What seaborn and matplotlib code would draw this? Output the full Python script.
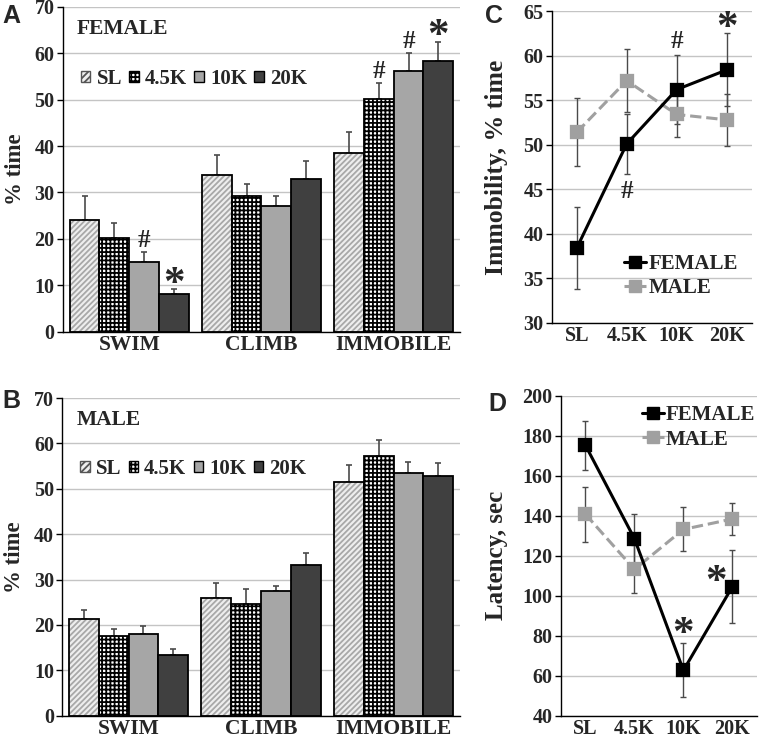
import matplotlib
matplotlib.use("Agg")
import matplotlib.pyplot as plt
import pandas as pd
import seaborn as sns
from matplotlib.lines import Line2D
from matplotlib.patches import Patch, Rectangle

# --- data ---
behaviors = ["SWIM", "CLIMB", "IMMOBILE"]
doses = ["SL", "4.5K", "10K", "20K"]
sexes = ["FEMALE", "MALE"]

# values per dose: SL, 4.5K, 10K, 20K
female_swim = [24.1, 20.3, 15.1, 8.2]
female_climb = [33.7, 29.3, 27.1, 33.0]
female_immobile = [38.4, 50.1, 56.2, 58.4]
female_swim_err = [5.1, 3.1, 2.0, 1.0]
female_climb_err = [4.3, 2.5, 2.1, 3.7]
female_immobile_err = [4.6, 3.4, 3.9, 4.1]

male_swim = [21.4, 17.6, 18.0, 13.3]
male_climb = [26.0, 24.7, 27.5, 33.2]
male_immobile = [51.4, 57.2, 53.4, 52.8]
male_swim_err = [2.0, 1.4, 1.8, 1.5]
male_climb_err = [3.2, 3.2, 1.1, 2.6]
male_immobile_err = [3.8, 3.5, 2.5, 2.9]

latency_female = [175.3, 128.6, 62.7, 104.6]
latency_female_err = [12.3, 12.2, 13.5, 18.4]
latency_male = [140.8, 113.2, 133.2, 138.4]
latency_male_err = [13.7, 12.0, 11.0, 7.8]

# significance marks: (behavior index, dose index, symbol)
female_marks = [(0, 2, "#"), (0, 3, "*"), (2, 1, "#"), (2, 2, "#"), (2, 3, "*")]

bar_colors = {"SL": "#eeeeee", "4.5K": "white", "10K": "#a6a6a6", "20K": "#404040"}
bar_hatches = {"SL": "//////", "4.5K": "++++", "10K": None, "20K": None}
line_colors = {"FEMALE": "black", "MALE": "#a0a0a0"}

sns.set_theme(style="white")
plt.rcParams["font.family"] = ["Liberation Serif", "DejaVu Serif"]
plt.rcParams["font.weight"] = "bold"
plt.rcParams["axes.labelweight"] = "bold"
plt.rcParams["hatch.linewidth"] = 1.3

GRID = "#c4c4c4"
ERR = "#4a4a4a"


def style_axes(ax, n, xsize):
    ax.spines["top"].set_visible(False)
    ax.spines["right"].set_visible(False)
    for s in ("left", "bottom"):
        ax.spines[s].set_color("black")
        ax.spines[s].set_linewidth(1.0)
    ax.yaxis.grid(True, color=GRID, lw=1)
    ax.set_axisbelow(True)
    ax.set_xlim(-0.5, n - 0.5)
    ax.set_xticks([i - 0.5 for i in range(n + 1)], minor=True)
    ax.tick_params(axis="x", which="major", length=0, labelsize=xsize, pad=2)
    ax.tick_params(axis="x", which="minor", length=5, width=1, color="black", direction="out")
    ax.tick_params(axis="y", length=4, width=1, color="black", direction="out", labelsize=14.5, pad=2, left=True)
    ax.set_xlabel("")


def bar_panel(ax, means, errs, title, marks):
    rows = []
    for b, vals in zip(behaviors, means):
        for d, v in zip(doses, vals):
            rows.append({"behavior": b, "dose": d, "value": v})
    df = pd.DataFrame(rows)
    sns.barplot(data=df, x="behavior", y="value", hue="dose", order=behaviors,
                hue_order=doses, palette=bar_colors, width=0.9, saturation=1,
                errorbar=None, edgecolor="black", linewidth=1.3, legend=False,
                zorder=2, ax=ax)
    centers = {}
    bar_conts = list(ax.containers)
    for di, cont in enumerate(bar_conts):
        d = doses[di]
        for bi, patch in enumerate(cont.patches):
            x = patch.get_x() + patch.get_width() / 2
            centers[(bi, di)] = x
            if d == "SL":
                patch.set_hatch(bar_hatches[d])
                patch.set_edgecolor("#a8a8a8")
                patch.set_linewidth(0)
                ax.add_patch(Rectangle((patch.get_x(), 0), patch.get_width(), patch.get_height(),
                                       fill=False, edgecolor="black", lw=1.3, zorder=2.1))
            elif bar_hatches[d]:
                patch.set_hatch(bar_hatches[d])
            ax.errorbar([x], [means[bi][di]], yerr=[[0], [errs[bi][di]]], fmt="none",
                        ecolor=ERR, elinewidth=1.2, capsize=2.5, capthick=1.2, zorder=1.5)
    for bi, di, sym in marks:
        top = means[bi][di] + errs[bi][di]
        if sym == "*":
            ax.text(centers[(bi, di)], top + 0.9, sym, ha="center", va="center", fontsize=31)
        else:
            ax.text(centers[(bi, di)], top + 2.5, sym, ha="center", va="center", fontsize=18)
    style_axes(ax, len(behaviors), 15.5)
    ax.set_ylim(0, 70)
    ax.set_yticks(range(0, 71, 10))
    ax.set_ylabel("% time", fontsize=16.5)
    ax.yaxis.set_label_coords(-0.093, 0.5)
    ax.text(0.035, 65.2, title, fontsize=15.5, va="center", ha="left",
            transform=ax.get_yaxis_transform())
    handles = []
    for d in doses:
        if d == "SL":
            handles.append(Patch(facecolor=bar_colors[d], edgecolor="#555555", hatch="/////"))
        else:
            handles.append(Patch(facecolor=bar_colors[d], edgecolor="black", hatch=bar_hatches[d]))
    ax.legend(handles, doses, loc="center left", bbox_to_anchor=(0.045, 0.778), ncol=4,
              frameon=False, handlelength=0.45, handleheight=0.45, handletextpad=0.3,
              columnspacing=0.35, borderaxespad=0, borderpad=0,
              prop={"size": 15, "weight": "bold"})


def line_panel(ax, fem, fem_err, mal, mal_err):
    df = pd.DataFrame({"dose": doses * 2,
                       "sex": ["FEMALE"] * 4 + ["MALE"] * 4,
                       "value": fem + mal})
    sns.pointplot(data=df, x="dose", y="value", hue="sex", order=doses,
                  hue_order=["MALE", "FEMALE"], palette=line_colors,
                  markers=["s", "s"], linestyles=["--", "-"], errorbar=None,
                  markersize=9, linewidth=2.2, legend=False, ax=ax)
    xs = list(range(len(doses)))
    ax.errorbar(xs, mal, yerr=mal_err, fmt="none", ecolor=ERR, elinewidth=1, capsize=2.5, zorder=1.5)
    ax.errorbar(xs, fem, yerr=fem_err, fmt="none", ecolor=ERR, elinewidth=1, capsize=2.5, zorder=1.5)
    style_axes(ax, len(doses), 14.5)
    handles = [Line2D([0], [0], color=line_colors[s], marker="s", ms=9, lw=2.2,
                      ls="-" if s == "FEMALE" else "--") for s in sexes]
    return handles


fig = plt.figure(figsize=(7.6, 7.44), dpi=100)
axA = fig.add_axes([0.083, 0.554, 0.522, 0.437])
axB = fig.add_axes([0.082, 0.038, 0.523, 0.427])
axC = fig.add_axes([0.726, 0.566, 0.263, 0.419])
axD = fig.add_axes([0.738, 0.038, 0.258, 0.430])

bar_panel(axA, [female_swim, female_climb, female_immobile],
          [female_swim_err, female_climb_err, female_immobile_err], "FEMALE", female_marks)
bar_panel(axB, [male_swim, male_climb, male_immobile],
          [male_swim_err, male_climb_err, male_immobile_err], "MALE", [])

h = line_panel(axC, female_immobile, female_immobile_err, male_immobile, male_immobile_err)
axC.set_ylim(30, 65)
axC.set_yticks(range(30, 66, 5))
axC.set_ylabel("Immobility, % time", fontsize=18.5)
axC.yaxis.set_label_coords(-0.22, 0.5)
axC.legend(h, sexes, loc="center right", bbox_to_anchor=(0.93, 0.15), frameon=False,
           handlelength=1.05, handletextpad=0.1, labelspacing=0.2, borderaxespad=0, borderpad=0,
           prop={"size": 15, "weight": "bold"})
axC.text(1, female_immobile[1] - female_immobile_err[1] - 2.0, "#", ha="center", va="center", fontsize=18)
axC.text(2, female_immobile[2] + female_immobile_err[2] + 1.5, "#", ha="center", va="center", fontsize=18)
axC.text(3, female_immobile[3] + female_immobile_err[3] + 0.5, "*", ha="center", va="center", fontsize=31)

h = line_panel(axD, latency_female, latency_female_err, latency_male, latency_male_err)
axD.set_ylim(40, 200)
axD.set_yticks(range(40, 201, 20))
axD.set_ylabel("Latency, sec", fontsize=18)
axD.yaxis.set_label_coords(-0.27, 0.5)
axD.legend(h, sexes, loc="upper right", bbox_to_anchor=(0.99, 0.97), frameon=False,
           handlelength=1.05, handletextpad=0.1, labelspacing=0.2, borderaxespad=0, borderpad=0,
           prop={"size": 15, "weight": "bold"})
axD.text(2, latency_female[2] + latency_female_err[2] + 4, "*", ha="center", va="center", fontsize=31)
axD.text(2.67, latency_female[3] + 2, "*", ha="center", va="center", fontsize=31)

for lbl, x, y in [("A", 0.003, 0.995), ("B", 0.003, 0.477), ("C", 0.638, 0.995), ("D", 0.642, 0.473)]:
    fig.text(x, y, lbl, fontsize=18, fontweight="bold", family="Liberation Sans", va="top", ha="left")

fig.savefig("out.png", dpi=100)
